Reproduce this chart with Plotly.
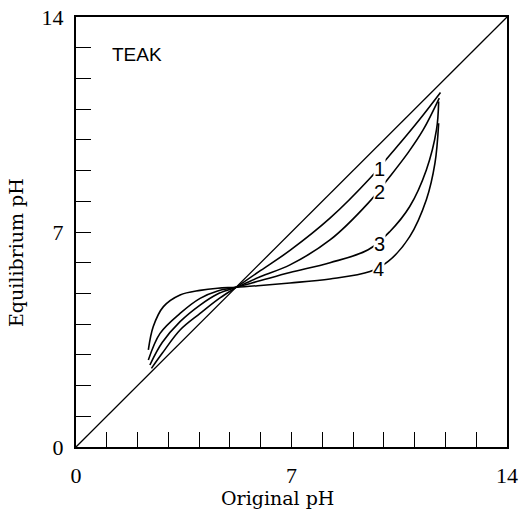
import plotly.graph_objects as go

# Curve data (Original pH -> Equilibrium pH)
c1_x = [2.45, 2.8, 3.38, 4.03, 4.6, 5.2, 6.0, 6.95, 8.25, 9.55, 10.19, 10.7, 11.27, 11.84]
c1_y = [2.56, 3.05, 3.81, 4.35, 4.8, 5.2, 5.75, 6.4, 7.45, 8.75, 9.5, 10.1, 10.8, 11.54]
c2_x = [2.4, 2.8, 3.38, 4.03, 4.6, 5.2, 6.0, 6.95, 8.25, 9.49, 10.19, 10.8, 11.28, 11.8]
c2_y = [2.67, 3.4, 4.08, 4.62, 4.98, 5.2, 5.55, 5.93, 6.74, 7.94, 8.8, 9.6, 10.33, 11.36]
c3_x = [2.35, 2.73, 3.38, 4.03, 4.6, 5.2, 6.0, 6.95, 8.25, 9.49, 10.19, 10.84, 11.38, 11.71, 11.78]
c3_y = [2.83, 3.7, 4.35, 4.84, 5.08, 5.2, 5.42, 5.68, 6.0, 6.42, 7.01, 7.83, 9.02, 10.33, 11.25]
c4_x = [2.35, 2.51, 2.84, 3.38, 4.03, 4.6, 5.2, 6.0, 6.95, 8.25, 9.55, 10.14, 10.84, 11.38, 11.66, 11.78]
c4_y = [3.16, 3.92, 4.57, 4.95, 5.1, 5.17, 5.2, 5.26, 5.34, 5.47, 5.71, 6.04, 6.85, 8.05, 9.24, 10.54]
diag = [0, 14]

curve_labels = ["1", "2", "3", "4"]
label_x = [9.87, 9.87, 9.85, 9.82]
label_y = [9.04, 8.29, 6.6, 5.81]

tick_vals = list(range(15))
tick_text = ["0", "", "", "", "", "", "", "7", "", "", "", "", "", "", "14"]

fig = go.Figure()
fig.add_trace(go.Scatter(x=diag, y=diag, mode="lines",
                         line=dict(color="black", width=1.3), showlegend=False))
for xs, ys in [(c1_x, c1_y), (c2_x, c2_y), (c3_x, c3_y), (c4_x, c4_y)]:
    fig.add_trace(go.Scatter(x=xs, y=ys, mode="lines",
                             line=dict(color="black", width=1.6, shape="spline", smoothing=1.0),
                             showlegend=False))

for t, lx, ly in zip(curve_labels, label_x, label_y):
    fig.add_annotation(x=lx, y=ly, text=t, showarrow=False, bgcolor="white",
                       borderpad=0,
                       font=dict(family="Liberation Sans", size=20, color="black"))

fig.add_annotation(x=1.98, y=12.77, text="TEAK", showarrow=False,
                   font=dict(family="Liberation Sans", size=19, color="black"))

# Axis titles as annotations (paper-positioned)
fig.add_annotation(xref="paper", yref="paper", x=(277 - 76) / 431, y=-(498 - 447) / 430,
                   text="Original pH", showarrow=False, yanchor="middle",
                   font=dict(family="DejaVu Serif", size=19, color="black"))
fig.add_annotation(xref="paper", yref="paper", x=-(76 - 16) / 431, y=(447 - 253) / 430,
                   text="Equilibrium pH", showarrow=False, textangle=-90,
                   xanchor="center", yanchor="middle",
                   font=dict(family="DejaVu Serif", size=19, color="black"))

axis_common = dict(
    range=[0, 14], tickvals=tick_vals, ticktext=tick_text,
    ticks="inside", ticklen=15, tickwidth=1.3, tickcolor="black",
    showline=True, linecolor="black", linewidth=2, mirror=True,
    showgrid=False, zeroline=False, automargin=False,
    tickfont=dict(family="Liberation Serif", size=22, color="black"),
)
fig.update_xaxes(**axis_common, ticklabelstandoff=8)
fig.update_yaxes(**axis_common, ticklabelstandoff=6)

fig.update_layout(
    width=521, height=516,
    margin=dict(l=76, r=14, t=17, b=69),
    plot_bgcolor="white", paper_bgcolor="white",
)

fig.write_html("out.html")
